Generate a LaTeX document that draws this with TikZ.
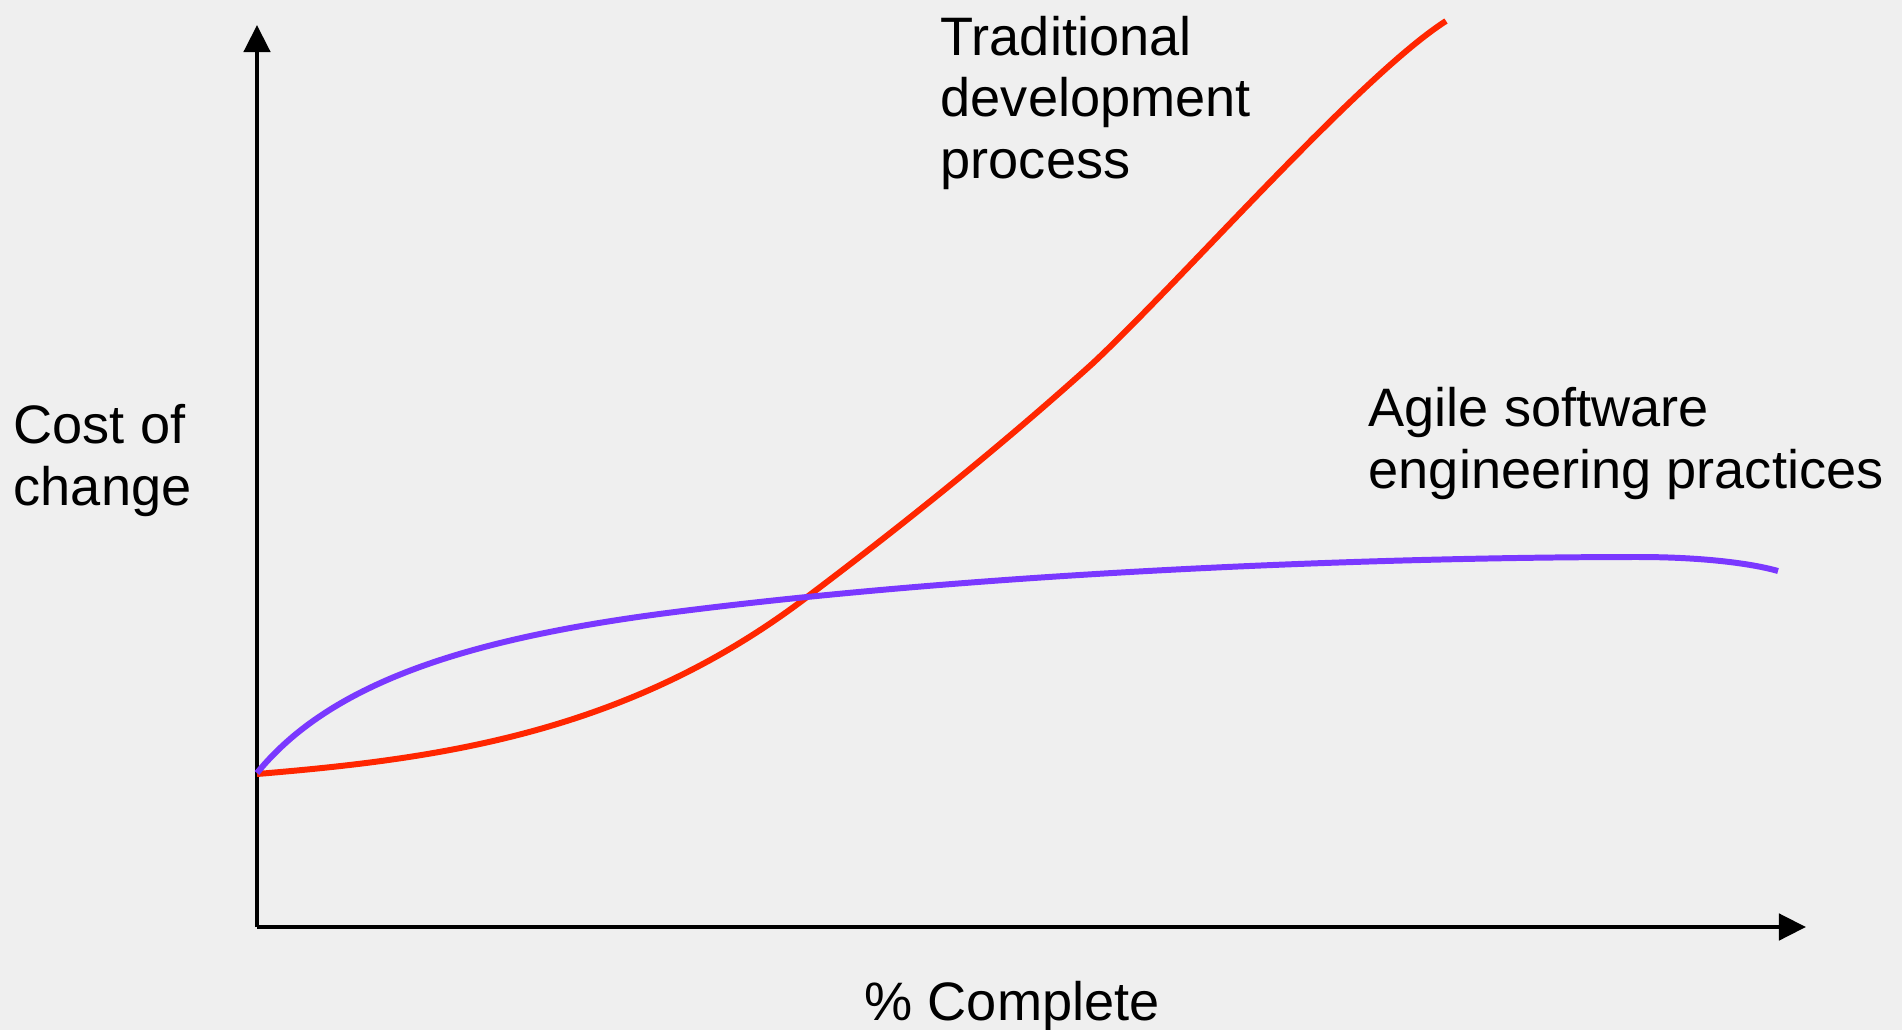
\documentclass[tikz,border=0pt]{standalone}
\usepackage{fontspec}
\setmainfont{Liberation Sans}
\usetikzlibrary{arrows.meta}
\definecolor{paper}{RGB}{239,239,239}
\definecolor{tradred}{RGB}{255,38,0}
\definecolor{agileviolet}{RGB}{122,56,255}
\def\labelfont{\fontsize{15.4}{17.36}\selectfont}

\begin{document}
\begin{tikzpicture}[x=0.01cm,y=-0.01cm,
    axis/.style={line width=1.3pt,-{Triangle[length=0.27cm,width=0.26cm]}},
    curve/.style={line width=1.7pt,line join=round},
    lbl/.style={anchor=base west,inner sep=0pt,align=left,font=\labelfont}]
    \fill[paper] (0,0) rectangle (1902,1030);
    \useasboundingbox (0,0) rectangle (1902,1030);
    \coordinate (origin) at (257,927);
    \coordinate (ytip) at (257,25);
    \coordinate (xtip) at (1806,927);
    \draw[axis] (origin) -- (ytip);
    \draw[axis] (origin) -- (xtip);
    \draw[curve,tradred] (257,774) .. controls (437,759) and (627,734) .. (807,597)
        .. controls (900,527) and (1000,447) .. (1092,364)
        .. controls (1180,282) and (1360,76) .. (1446,21);
    \draw[curve,agileviolet] (257,773) .. controls (330,683) and (467,639) .. (667,613)
        .. controls (1000,570) and (1400,557) .. (1638,557)
        .. controls (1700,557) and (1750,563) .. (1778,571);
    \node[lbl] (trad) at (940,178) {Traditional\\development\\process};
    \node[lbl] (agile) at (1368,488) {Agile software\\engineering practices};
    \node[lbl] (cost) at (13,505) {Cost of\\change};
    \node[lbl] (complete) at (864,1020) {\% Complete};
\end{tikzpicture}
\end{document}
